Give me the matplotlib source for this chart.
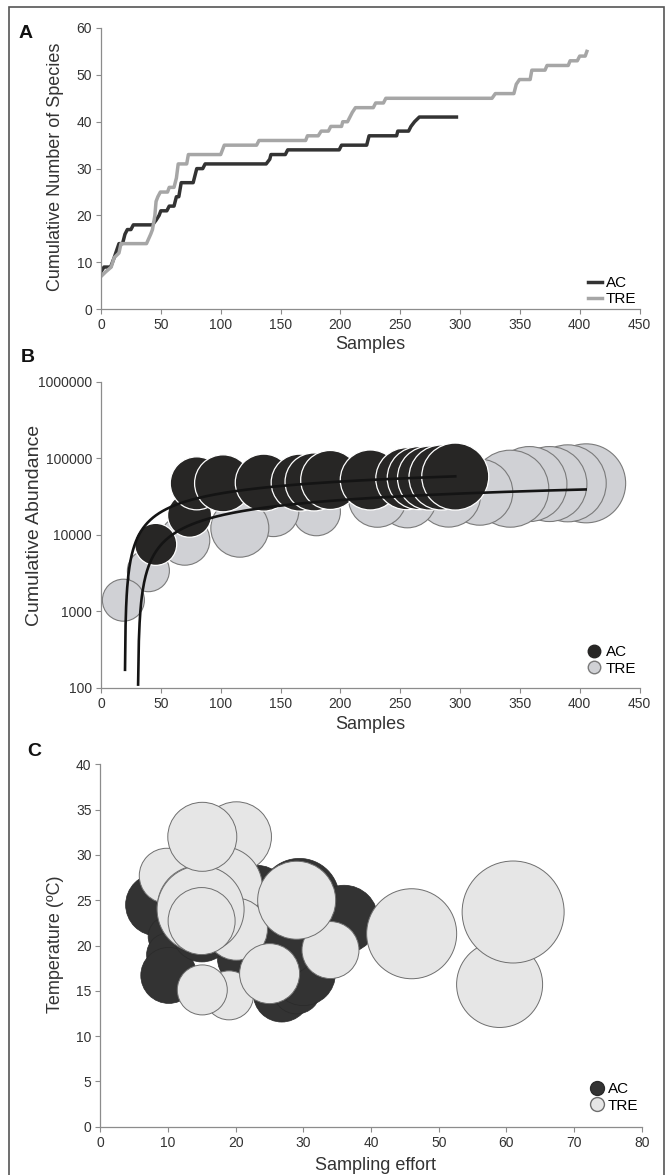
import numpy as np
import matplotlib
matplotlib.use('Agg')
import matplotlib.pyplot as plt
from matplotlib.lines import Line2D
from matplotlib.patches import Rectangle
from matplotlib.ticker import NullLocator

plt.rcParams['font.family'] = ['Liberation Sans', 'DejaVu Sans']

# Panel A: cumulative number of species vs samples
ac_samples = [0, 2.5, 8, 11, 15, 18, 20, 22, 25, 27, 43, 46, 48.5, 50, 55, 57, 61, 63, 65, 67,
              77, 80, 85, 87, 138, 141, 142, 154, 156, 199, 201, 222, 224, 247, 248, 257, 259,
              262, 266, 297]
ac_species = [8, 9, 9, 11, 14, 14, 16, 17, 17, 18, 18, 19, 20, 21, 21, 22, 22, 24, 24, 27,
              27, 30, 30, 31, 31, 32, 33, 33, 34, 34, 35, 35, 37, 37, 38, 38, 39,
              40, 41, 41]
tre_samples = [0, 4, 8.5, 11, 15, 16.7, 38, 41.5, 43, 45, 46, 47.5, 49.6, 55.6, 57, 61, 63, 64.5,
               71.6, 73, 100, 103, 130, 132, 171, 172.5, 181.5, 184, 190, 192, 201, 202, 206,
               210, 212.6, 227.5, 229.5, 236, 238, 326.7, 329.5, 345, 347, 349.7, 358.6, 360,
               371, 372.7, 390.4, 392, 398, 400, 404.6, 406]
tre_species = [7, 8, 9, 11, 12, 14, 14, 16, 17, 20, 23, 24, 25, 25, 26, 26, 28, 31,
               31, 33, 33, 35, 35, 36, 36, 37, 37, 38, 38, 39, 39, 40, 40,
               42, 43, 43, 44, 44, 45, 45, 46, 46, 48, 49, 49, 51,
               51, 52, 52, 53, 53, 54, 54, 55]

# Panel B: cumulative abundance vs samples (bubble size = relative weight)
ac_b_samples = [45.7, 74, 80, 102, 136, 166, 178, 191.5, 225, 255.5, 265.5, 274.5, 284.5, 296]
ac_b_abund = [7500, 18000, 47000, 47000, 48000, 48000, 49000, 52000, 52000, 54000, 55000,
              55000, 56000, 57600]
ac_b_size = [42, 44, 53, 57, 57, 57, 58, 59, 60, 62, 63, 64, 65, 67]
tre_b_samples = [18.7, 39.6, 70, 116, 144, 180, 231, 256, 290.5, 316.5, 342, 358, 374.7, 390, 405.4]
tre_b_abund = [1400, 3400, 8500, 12200, 20400, 20000, 30000, 29500, 33000, 36000, 40000,
               46000, 46000, 47000, 47000]
tre_b_size = [42, 42, 50, 58, 51, 48, 58, 58, 64, 66, 77, 75, 75, 77, 79]
# logarithmic trend lines y = a*ln(x) + b
ac_fit = [21480, -64240]
tre_fit = [15175, -52000]
ac_fit_range = [20.06, 296]
tre_fit_range = [31.0, 405]

# Panel C: temperature vs sampling effort
ac_c_effort = [8.3, 10.0, 10.0, 10.1, 23.0, 29.4, 36.0, 26.8, 29.0, 30.0, 21.0, 27.0, 15.0]
ac_c_temp = [24.5, 21.0, 19.0, 16.7, 25.0, 25.2, 22.9, 14.7, 15.1, 16.9, 18.5, 20.5, 21.5]
ac_c_size = [62, 40, 43, 56, 70, 80, 68, 57, 48, 64, 50, 70, 60]
tre_c_effort = [59.0, 61.0, 46.0, 20.1, 18.0, 20.1, 9.8, 34.0, 29.0, 19.0, 25.0, 15.05, 14.6, 14.8, 14.95, 15.05]
tre_c_temp = [15.7, 23.7, 21.3, 32.0, 26.5, 21.8, 27.7, 19.5, 25.0, 14.5, 16.9, 15.1, 24.2, 24.0, 22.7, 32.0]
tre_c_size = [86, 102, 90, 70, 80, 62, 55, 57, 78, 49, 60, 50, 84, 87, 67, 69]

dark = '#333333'
grey_line = '#a6a6a6'
txt = '#333333'
spine_col = '#8c8c8c'

fig = plt.figure(figsize=(6.65, 11.75), dpi=100)


def style(ax):
    for s in ['top', 'right']:
        ax.spines[s].set_visible(False)
    for s in ['left', 'bottom']:
        ax.spines[s].set_color(spine_col)
        ax.spines[s].set_linewidth(0.9)
    ax.tick_params(direction='out', length=3.5, width=0.8, color=spine_col,
                   labelsize=10, labelcolor=txt, pad=3)


def to_s(d):
    # bubble diameter (px at 100 dpi) -> marker area in points^2
    return (np.array(d) * 0.72) ** 2


# ---------- A ----------
axA = fig.add_axes([0.1519, 0.7368, 0.8098, 0.2394])
style(axA)
axA.plot(ac_samples, ac_species, color=dark, lw=2.5, label='AC')
axA.plot(tre_samples, tre_species, color=grey_line, lw=2.5, label='TRE')
axA.set_xlim(0, 450)
axA.set_ylim(0, 60)
axA.set_xticks(np.arange(0, 451, 50))
axA.set_yticks(np.arange(0, 61, 10))
axA.set_xlabel('Samples', fontsize=13, color=txt)
axA.set_ylabel('Cumulative Number of Species', fontsize=13, color=txt)
axA.xaxis.label.set_va('center')
axA.yaxis.label.set_va('center')
axA.xaxis.set_label_coords(0.5, -0.127)
axA.yaxis.set_label_coords(-0.0854, 0.507)
axA.legend(loc='lower right', bbox_to_anchor=(1.0, 0.0), borderaxespad=0, frameon=False,
           fontsize=11, handlelength=0.9, handletextpad=0.25, labelspacing=0.15, borderpad=0.2)

# ---------- B ----------
axB = fig.add_axes([0.1519, 0.4145, 0.8098, 0.2607])
style(axB)
axB.set_yscale('log')
axB.scatter(tre_b_samples[::-1], tre_b_abund[::-1], s=to_s(tre_b_size[::-1]), color='#d0d1d5',
            edgecolors='#7a7a7a', linewidths=0.8, zorder=2)
axB.scatter(ac_b_samples, ac_b_abund, s=to_s(ac_b_size), color='#272625',
            edgecolors='white', linewidths=0.9, zorder=3)
for fit, rng in [(ac_fit, ac_fit_range), (tre_fit, tre_fit_range)]:
    xx = np.linspace(rng[0], rng[1], 600)
    axB.plot(xx, fit[0] * np.log(xx) + fit[1], color='#141414', lw=1.9, zorder=4)
axB.set_xlim(0, 450)
axB.set_ylim(100, 1e6)
axB.set_xticks(np.arange(0, 451, 50))
yt = [100, 1000, 10000, 100000, 1000000]
axB.set_yticks(yt)
axB.set_yticklabels([str(v) for v in yt])
axB.yaxis.set_minor_locator(NullLocator())
axB.set_xlabel('Samples', fontsize=13, color=txt)
axB.set_ylabel('Cumulative Abundance', fontsize=14, color=txt)
axB.xaxis.label.set_va('center')
axB.yaxis.label.set_va('center')
axB.xaxis.set_label_coords(0.5, -0.1208)
axB.yaxis.set_label_coords(-0.1244, 0.53)
hB = [Line2D([], [], ls='', marker='o', markersize=9, markerfacecolor='#272625',
             markeredgecolor='#272625', label='AC'),
      Line2D([], [], ls='', marker='o', markersize=9, markerfacecolor='#d0d1d5',
             markeredgecolor='#7a7a7a', label='TRE')]
axB.legend(handles=hB, loc='lower right', bbox_to_anchor=(1.0, 0.03), borderaxespad=0,
           frameon=False, fontsize=11, handlelength=1.0, handletextpad=0.3,
           labelspacing=0.15, borderpad=0.2)

# ---------- C ----------
axC = fig.add_axes([0.1511, 0.0411, 0.8138, 0.3084])
style(axC)
axC.scatter(ac_c_effort, ac_c_temp, s=to_s(ac_c_size), color='#333333',
            edgecolors='#2a2a2a', linewidths=0.5, zorder=2)
axC.scatter(tre_c_effort, tre_c_temp, s=to_s(tre_c_size), color='#e6e6e6',
            edgecolors='#6e6e6e', linewidths=0.7, zorder=3)
axC.set_xlim(0, 80)
axC.set_ylim(0, 40)
axC.set_xticks(np.arange(0, 81, 10))
axC.set_yticks(np.arange(0, 41, 5))
axC.set_xlabel('Sampling effort', fontsize=13, color=txt)
axC.set_ylabel('Temperature (ºC)', fontsize=13, color=txt)
axC.xaxis.label.set_va('center')
axC.yaxis.label.set_va('center')
axC.xaxis.set_label_coords(0.509, -0.1057)
axC.yaxis.set_label_coords(-0.084, 0.504)
hC = [Line2D([], [], ls='', marker='o', markersize=10, markerfacecolor='#333333',
             markeredgecolor='#2a2a2a', label='AC'),
      Line2D([], [], ls='', marker='o', markersize=10, markerfacecolor='#e6e6e6',
             markeredgecolor='#6e6e6e', label='TRE')]
axC.legend(handles=hC, loc='lower right', bbox_to_anchor=(1.0, 0.03), borderaxespad=0,
           frameon=False, fontsize=11, handlelength=0.8, handletextpad=0.3,
           labelspacing=0.15, borderpad=0.2)

# panel letters
for lab, x, y in [('A', 26, 33), ('B', 28, 357), ('C', 34, 752)]:
    fig.text(x / 665, 1 - y / 1175, lab, fontsize=14, fontweight='bold',
             ha='center', va='center', color='#111111')

# frame around the whole figure
fig.patches.append(Rectangle((9 / 665, -0.01), (663.5 - 9) / 665, 1.004,
                             transform=fig.transFigure, fill=False,
                             edgecolor='#555555', lw=1.2))

fig.savefig('out.png', dpi=100)
